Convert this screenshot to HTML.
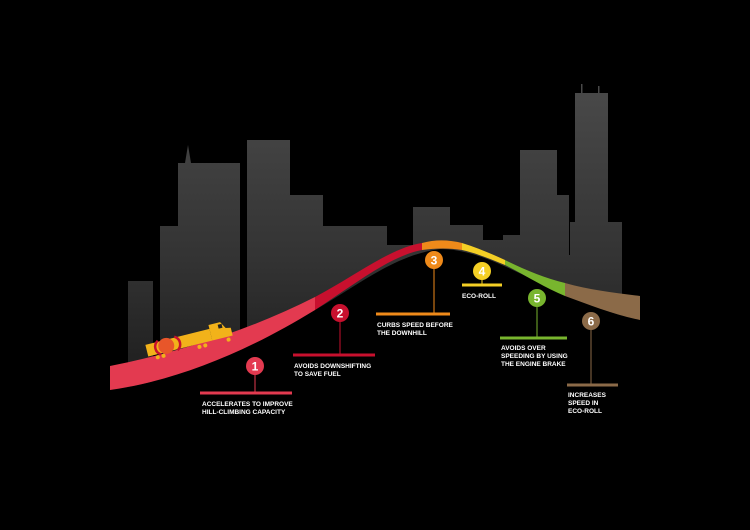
<!DOCTYPE html>
<html><head><meta charset="utf-8"><style>
html,body{margin:0;padding:0;background:#000;width:750px;height:530px;overflow:hidden}
text{font-family:"Liberation Sans",sans-serif;font-weight:bold;fill:#fff}
.l{font-size:6.5px}
.n{font-size:12px;text-anchor:middle}
</style></head><body>
<svg width="750" height="530" viewBox="0 0 750 530" xmlns="http://www.w3.org/2000/svg">
<defs>
<linearGradient id="g" x1="0" y1="80" x2="0" y2="380" gradientUnits="userSpaceOnUse">
<stop offset="0" stop-color="#4a4a4a"/><stop offset="0.6" stop-color="#333"/><stop offset="1" stop-color="#1e1e1e"/>
</linearGradient>
</defs>
<rect width="750" height="530" fill="#000"/>
<g fill="url(#g)">
<rect x="178" y="163" width="62" height="240"/>
<polygon points="185,163 188,145 191,163"/>
<rect x="212" y="164" width="18" height="240"/>
<rect x="247" y="140" width="43" height="260"/>
<rect x="290" y="195" width="33" height="200"/>
<rect x="323" y="226" width="64" height="170"/>
<rect x="160" y="226" width="43" height="170"/>
<rect x="128" y="281" width="25" height="120"/>
<rect x="210" y="262" width="28" height="130"/>
<rect x="250" y="258" width="22" height="130"/>
<rect x="295" y="244" width="42" height="140"/>
<rect x="387" y="245" width="30" height="120"/>
<rect x="413" y="207" width="37" height="150"/>
<rect x="450" y="225" width="33" height="140"/>
<rect x="483" y="240" width="20" height="120"/>
<rect x="503" y="235" width="32" height="120"/>
<rect x="520" y="150" width="37" height="200"/>
<rect x="557" y="195" width="12" height="150"/>
<rect x="575" y="93" width="33" height="250"/>
<rect x="581" y="84" width="1.5" height="10"/><rect x="598" y="86" width="1.5" height="8"/>
<rect x="570" y="222" width="52" height="120"/>
<rect x="535" y="255" width="40" height="90"/>
</g>
<path d="M0,530 L0,392 L110,390 C180,380 240,352 315,310 C360,284 395,255 440,249 C480,249 520,275 565,295 C590,305 615,315 640,320 L750,322 L750,530 Z" fill="#000"/>
<path d="M110,366 C180,352 250,330 315,297 L315,310 C250,350 180,380 110,390 Z" fill="#e33a50"/>
<path d="M315,297 C355,276 390,248 422,243 L422,250 C390,256 355,284 315,310 Z" fill="#c8102e"/>
<path d="M422,243 C436,239 450,240 462,243 L462,250 C450,248 436,248 422,250 Z" fill="#ef8a1a"/>
<path d="M462,243 C478,248 492,254 505,260 L505,265 C490,259 476,253 462,250 Z" fill="#f4cf25"/>
<path d="M505,260 C525,270 545,278 565,283 L565,296 C545,288 525,275 505,265 Z" fill="#78b52e"/>
<path d="M565,283 C590,290 615,293 640,296 L640,320 C615,315 590,305 565,296 Z" fill="#8b6a48"/>
<g transform="translate(0,4) rotate(-14 190 338)">
<rect x="146" y="330" width="66" height="12" fill="#f2b21a"/>
<circle cx="166" cy="336" r="8" fill="#e8562a"/>
<path d="M159,329 A8,8 0 0 0 159,343" stroke="#c8102e" stroke-width="2.5" fill="none"/>
<path d="M176,329 A8,8 0 0 1 176,343" stroke="#c8102e" stroke-width="2.5" fill="none"/>
<path d="M212,342 L212,326 L224,326 L228,333 L233,334 L233,342 Z" fill="#f2b21a"/>
<rect x="221" y="328" width="4" height="4" fill="#222"/>
<g fill="#f2b21a"><circle cx="155" cy="345" r="2"/><circle cx="161" cy="345" r="2"/><circle cx="198" cy="345" r="2"/><circle cx="204" cy="345" r="2"/><circle cx="228" cy="345" r="2"/></g>
</g>
<g stroke-width="3">
<line x1="255" y1="366" x2="255" y2="393" stroke="#e33a50" stroke-width="1"/>
<line x1="200" y1="393" x2="292" y2="393" stroke="#e33a50"/>
<line x1="340" y1="313" x2="340" y2="355" stroke="#c8102e" stroke-width="1"/>
<line x1="293" y1="355" x2="375" y2="355" stroke="#c8102e"/>
<line x1="434" y1="260" x2="434" y2="314" stroke="#ef8a1a" stroke-width="1"/>
<line x1="376" y1="314" x2="450" y2="314" stroke="#ef8a1a"/>
<line x1="482" y1="271" x2="482" y2="285" stroke="#f4cf25" stroke-width="1"/>
<line x1="462" y1="285" x2="502" y2="285" stroke="#f4cf25"/>
<line x1="537" y1="298" x2="537" y2="338" stroke="#78b52e" stroke-width="1"/>
<line x1="500" y1="338" x2="567" y2="338" stroke="#78b52e"/>
<line x1="591" y1="321" x2="591" y2="385" stroke="#8b6a48" stroke-width="1"/>
<line x1="567" y1="385" x2="618" y2="385" stroke="#8b6a48"/>
</g>
<circle cx="255" cy="366" r="9" fill="#e33a50"/><text class="n" x="255" y="370.5">1</text>
<circle cx="340" cy="313" r="9" fill="#c8102e"/><text class="n" x="340" y="317.5">2</text>
<circle cx="434" cy="260" r="9" fill="#ef8a1a"/><text class="n" x="434" y="264.5">3</text>
<circle cx="482" cy="271" r="9" fill="#f4cf25"/><text class="n" x="482" y="275.5">4</text>
<circle cx="537" cy="298" r="9" fill="#78b52e"/><text class="n" x="537" y="302.5">5</text>
<circle cx="591" cy="321" r="9" fill="#8b6a48"/><text class="n" x="591" y="325.5">6</text>
<text class="l" x="202" y="406">ACCELERATES TO IMPROVE</text>
<text class="l" x="202" y="414">HILL-CLIMBING CAPACITY</text>
<text class="l" x="294" y="368">AVOIDS DOWNSHIFTING</text>
<text class="l" x="294" y="376">TO SAVE FUEL</text>
<text class="l" x="377" y="327">CURBS SPEED BEFORE</text>
<text class="l" x="377" y="335">THE DOWNHILL</text>
<text class="l" x="462" y="298">ECO-ROLL</text>
<text class="l" x="501" y="350">AVOIDS OVER</text>
<text class="l" x="501" y="358">SPEEDING BY USING</text>
<text class="l" x="501" y="366">THE ENGINE BRAKE</text>
<text class="l" x="568" y="397">INCREASES</text>
<text class="l" x="568" y="405">SPEED IN</text>
<text class="l" x="568" y="413">ECO-ROLL</text>
</svg>
</body></html>
